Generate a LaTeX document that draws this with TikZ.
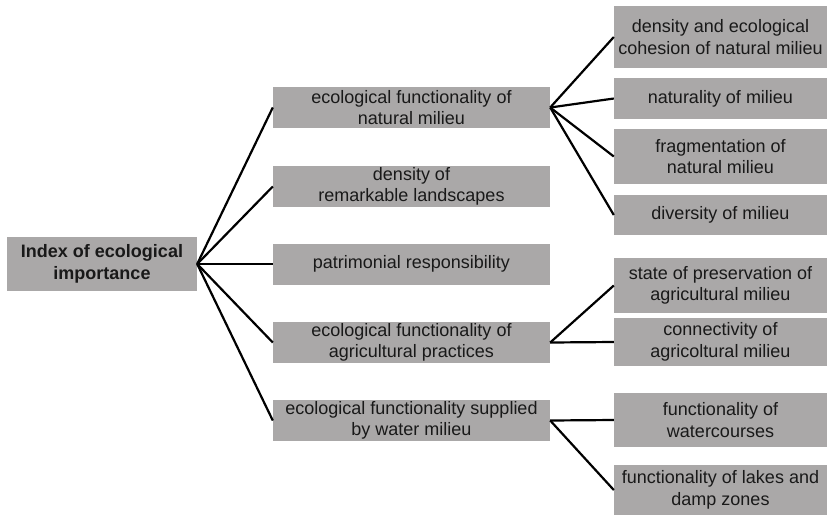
\documentclass[tikz,border=0pt]{standalone}
\usepackage{fontspec}
\setmainfont{Liberation Sans}
\definecolor{boxgray}{RGB}{170,168,168}
\definecolor{ink}{RGB}{25,25,25}
\tikzset{
  box/.style = {fill=boxgray, text=ink, align=center, inner sep=0pt,
                font=\fontsize{18}{21.5}\selectfont},
  midbox/.style = {box, minimum width=277pt, minimum height=41pt},
  leafbox/.style = {box, minimum width=213pt},
  link/.style = {line width=2.2pt, black}
}
\begin{document}
\begin{tikzpicture}[x=1pt, y=-1pt]
  \useasboundingbox (0,0) rectangle (827,515);

  \node[box, minimum width=190pt, minimum height=54pt, font=\fontsize{18}{21.5}\selectfont\bfseries] (idx) at (102,264) {Index of ecological\\importance};

  \node[midbox] (efn) at (411.5,107.5) {ecological functionality of\\natural milieu};
  \node[midbox] (dens) at (411.5,186.5) {density of\\remarkable landscapes};
  \node[midbox] (patr) at (411.5,264) {patrimonial responsibility};
  \node[midbox] (efa) at (411.5,342.5) {ecological functionality of\\agricultural practices};
  \node[midbox] (efw) at (411.5,420.5) {ecological functionality supplied\\by water milieu};

  \node[leafbox, minimum height=62pt] (coh) at (720.5,37) {density and ecological\\cohesion of natural milieu};
  \node[leafbox, minimum height=41pt] (nat) at (720.5,98.5) {naturality of milieu};
  \node[leafbox, minimum height=55pt] (frag) at (720.5,156.5) {fragmentation of\\natural milieu};
  \node[leafbox, minimum height=40pt] (div) at (720.5,215) {diversity of milieu};
  \node[leafbox, minimum height=55pt] (pres) at (720.5,285.5) {state of preservation of\\agricultural milieu};
  \node[leafbox, minimum height=48pt] (conn) at (720.5,342) {connectivity of\\agricoltural milieu};
  \node[leafbox, minimum height=54pt] (wat) at (720.5,420) {functionality of\\watercourses};
  \node[leafbox, minimum height=50pt] (lake) at (720.5,490) {functionality of lakes and\\damp zones};

  % index to the five components
  \draw[link] (idx.east) -- (efn.west);
  \draw[link] (idx.east) -- (dens.west);
  \draw[link] (idx.east) -- (patr.west);
  \draw[link] (idx.east) -- (efa.west);
  \draw[link] (idx.east) -- (efw.west);

  % sub-indicators
  \draw[link] (efn.east) -- (coh.west);
  \draw[link] (efn.east) -- (nat.west);
  \draw[link] (efn.east) -- (frag.west);
  \draw[link] (efn.east) -- (div.west);
  \draw[link] (efa.east) -- (pres.west);
  \draw[link] (efa.east) -- (conn.west);
  \draw[link] (efw.east) -- (wat.west);
  \draw[link] (efw.east) -- (lake.west);
\end{tikzpicture}
\end{document}
